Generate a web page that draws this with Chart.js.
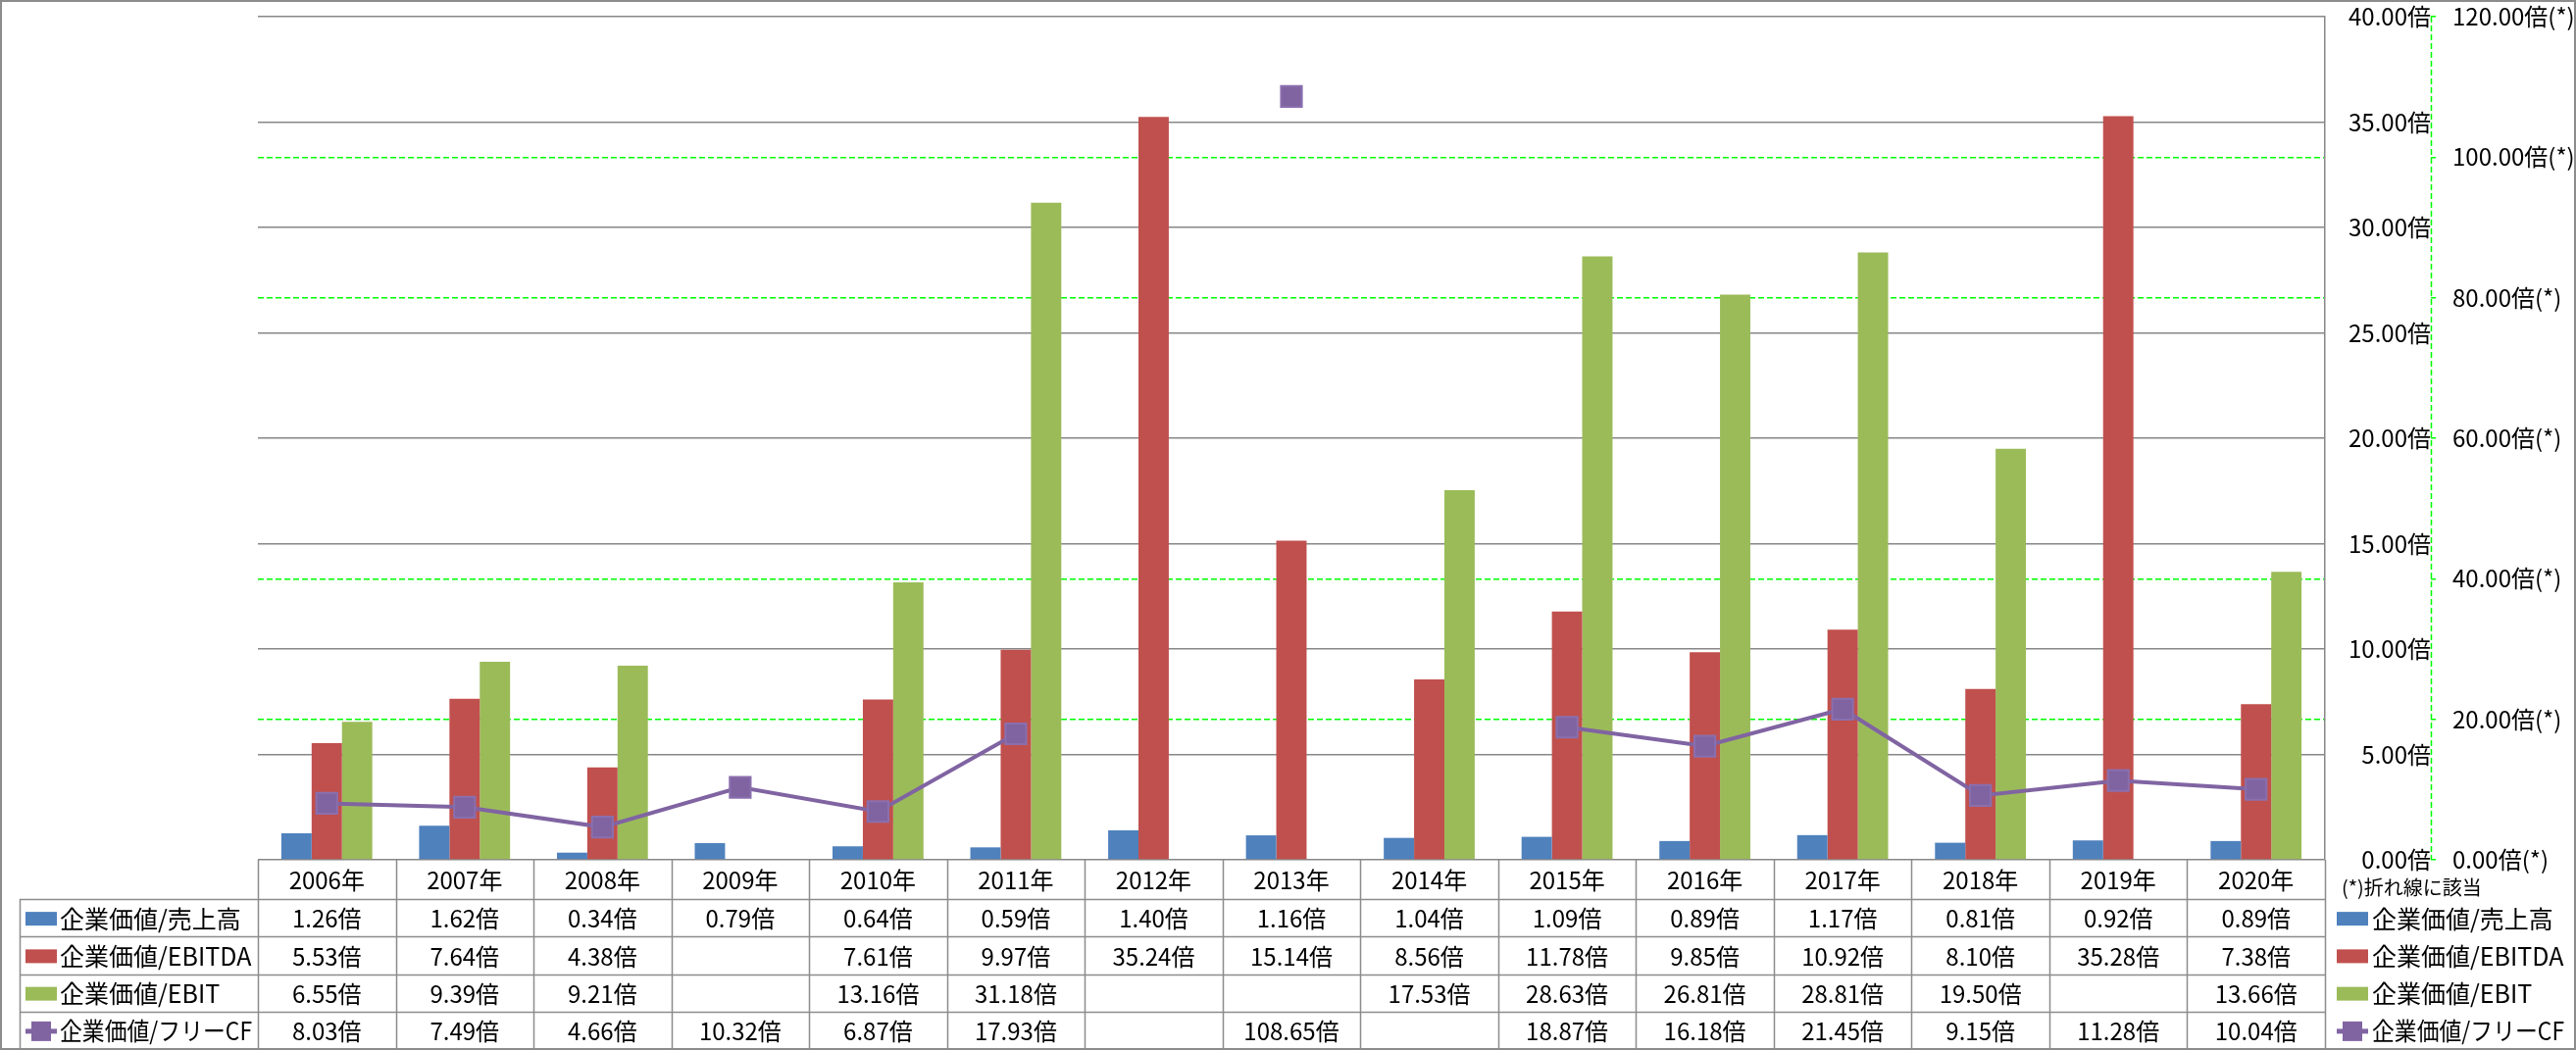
<!DOCTYPE html>
<html>
<head>
<meta charset="utf-8">
<script src="https://cdn.jsdelivr.net/npm/chart.js@4/dist/chart.umd.min.js"></script>
<style>
  html, body { margin: 0; padding: 0; background: #fff; }
  canvas { display: block; }
</style>
</head>
<body>
<canvas id="chart" width="2627" height="1071"></canvas>
<script>
const years = ['2006年', '2007年', '2008年', '2009年', '2010年', '2011年', '2012年', '2013年',
               '2014年', '2015年', '2016年', '2017年', '2018年', '2019年', '2020年'];

const evSales  = [1.26, 1.62, 0.34, 0.79, 0.64, 0.59, 1.40, 1.16, 1.04, 1.09, 0.89, 1.17, 0.81, 0.92, 0.89];
const evEbitda = [5.53, 7.64, 4.38, null, 7.61, 9.97, 35.24, 15.14, 8.56, 11.78, 9.85, 10.92, 8.10, 35.28, 7.38];
const evEbit   = [6.55, 9.39, 9.21, null, 13.16, 31.18, null, null, 17.53, 28.63, 26.81, 28.81, 19.50, null, 13.66];
const evFcf    = [8.03, 7.49, 4.66, 10.32, 6.87, 17.93, null, 108.65, null, 18.87, 16.18, 21.45, 9.15, 11.28, 10.04];

const leftTicks  = { min: 0, max: 40, step: 5 };
const rightTicks = { min: 0, max: 120, step: 20 };

const COLORS = {
    sales: '#4F81BD',
    ebitda: '#C0504D',
    ebit: '#9BBB59',
    fcf: '#8064A2',
    grid: '#878787',
    table: '#8C8C8C',
    green: '#00FF00'
};

const FONT = "'Noto Sans CJK JP', 'Noto Sans', sans-serif";
Chart.defaults.font.family = FONT;
Chart.defaults.font.size = 24;
Chart.defaults.color = '#000';

const fmt = v => (v === null || v === undefined) ? '' : v.toFixed(2) + '倍';

// swatch used both in the table row headers and the right legend
function drawSwatch(ctx, ds, x, y, w) {
    if (ds.type === 'line') {
        ctx.strokeStyle = ds.borderColor;
        ctx.lineWidth = 5;
        ctx.beginPath();
        ctx.moveTo(x, y);
        ctx.lineTo(x + w, y);
        ctx.stroke();
        ctx.fillStyle = ds.borderColor;
        ctx.fillRect(x + w / 2 - 10, y - 10, 20, 20);
    } else {
        ctx.fillStyle = ds.backgroundColor;
        ctx.fillRect(x, y - 7, w, 14);
    }
}

const dataTable = {
    id: 'dataTable',
    afterDraw(chart) {
        const { ctx, chartArea, scales: { x, y2 } } = chart;
        const datasets = chart.data.datasets;
        const left = chartArea.left, right = chartArea.right;
        const colW = (right - left) / years.length;
        const headTop = chartArea.bottom;
        const headBottom = headTop + 40;
        const rowH = (1070 - headBottom) / datasets.length;
        const labelLeft = 20;

        ctx.save();
        // dashed secondary axis line
        ctx.strokeStyle = COLORS.green;
        ctx.lineWidth = 1.5;
        ctx.setLineDash([6, 3]);
        ctx.beginPath();
        ctx.moveTo(Math.round(y2.left) + 0.5, chartArea.top);
        ctx.lineTo(Math.round(y2.left) + 0.5, chartArea.bottom);
        ctx.stroke();
        ctx.setLineDash([]);

        ctx.strokeStyle = COLORS.table;
        ctx.lineWidth = 1.5;
        ctx.beginPath();
        // horizontal lines
        for (let r = 0; r <= datasets.length; r++) {
            const y = Math.round(headBottom + r * rowH) + 0.5;
            ctx.moveTo(labelLeft, y);
            ctx.lineTo(right, y);
        }
        // vertical lines
        for (let i = 0; i <= years.length; i++) {
            const xx = Math.round(left + i * colW) + 0.5;
            ctx.moveTo(xx, headTop);
            ctx.lineTo(xx, 1070);
        }
        ctx.moveTo(labelLeft + 0.5, headBottom);
        ctx.lineTo(labelLeft + 0.5, 1070);
        ctx.stroke();

        ctx.fillStyle = '#000';
        ctx.font = '24px ' + FONT;
        ctx.textAlign = 'center';
        ctx.textBaseline = 'middle';
        years.forEach((yr, i) => {
            ctx.fillText(yr, x.getPixelForValue(i), (headTop + headBottom) / 2 + 1);
        });

        datasets.forEach((ds, r) => {
            const cy = headBottom + (r + 0.5) * rowH + 1;
            ctx.font = '24px ' + FONT;
            ctx.fillStyle = '#000';
            ctx.textAlign = 'center';
            ds.data.forEach((v, i) => {
                ctx.fillText(fmt(v), x.getPixelForValue(i), cy);
            });
            ctx.font = '25px ' + FONT;
            // row header
            drawSwatch(ctx, ds, 26, cy, 32);
            ctx.fillStyle = '#000';
            ctx.textAlign = 'left';
            ctx.fillText(ds.label, 61, cy, 196);
            // right legend
            drawSwatch(ctx, ds, 2383, cy, 32);
            ctx.fillStyle = '#000';
            ctx.fillText(ds.label, 2419, cy, 196);
        });

        ctx.font = '20px ' + FONT;
        ctx.textAlign = 'left';
        ctx.fillText('(*)折れ線に該当', 2388, 905);

        // outer frame
        ctx.strokeStyle = COLORS.table;
        ctx.lineWidth = 2;
        ctx.strokeRect(1, 1, 2625, 1069);
        ctx.restore();
    }
};

new Chart(document.getElementById('chart'), {
    type: 'bar',
    data: {
        labels: years,
        datasets: [
            {
                label: '企業価値/売上高',
                data: evSales,
                backgroundColor: COLORS.sales,
                yAxisID: 'y',
                order: 1
            },
            {
                label: '企業価値/EBITDA',
                data: evEbitda,
                backgroundColor: COLORS.ebitda,
                yAxisID: 'y',
                order: 1
            },
            {
                label: '企業価値/EBIT',
                data: evEbit,
                backgroundColor: COLORS.ebit,
                yAxisID: 'y',
                order: 1
            },
            {
                type: 'line',
                label: '企業価値/フリーCF',
                data: evFcf,
                borderColor: COLORS.fcf,
                backgroundColor: COLORS.fcf,
                borderWidth: 4,
                pointStyle: 'rect',
                pointRadius: 15,
                pointBorderWidth: 2,
                pointBorderColor: '#8A6FAE',
                pointBackgroundColor: COLORS.fcf,
                spanGaps: false,
                tension: 0,
                yAxisID: 'y2',
                order: 0
            }
        ]
    },
    options: {
        responsive: false,
        devicePixelRatio: 1,
        animation: false,
        events: [],
        layout: { padding: { left: 263, top: 16, right: 0, bottom: 194 } },
        datasets: {
            bar: { barPercentage: 1, categoryPercentage: 0.66 }
        },
        plugins: {
            legend: { display: false },
            tooltip: { enabled: false }
        },
        scales: {
            x: {
                type: 'category',
                display: false,
                offset: true
            },
            y: {
                position: 'right',
                min: leftTicks.min,
                max: leftTicks.max,
                afterFit: s => { s.width = 108; s.paddingTop = 0; s.paddingBottom = 0; },
                grid: { color: COLORS.grid, lineWidth: 1.5, drawTicks: false },
                border: { display: true, color: COLORS.grid, width: 1.5 },
                ticks: {
                    stepSize: leftTicks.step,
                    crossAlign: 'far',
                    padding: 11,
                    callback: v => v.toFixed(2) + '倍'
                }
            },
            y2: {
                position: 'right',
                min: rightTicks.min,
                max: rightTicks.max,
                afterFit: s => { s.width = 148; s.paddingTop = 0; s.paddingBottom = 0; },
                grid: {
                    // skip lines that fall on a primary gridline (0, 60, 120)
                    color: ctx => (ctx.tick && ctx.tick.value % 60 === 0) ? 'rgba(0,0,0,0)' : COLORS.green,
                    tickColor: COLORS.green,
                    lineWidth: 1.5,
                    tickLength: 5
                },
                border: { display: false, dash: [6, 3] },
                ticks: {
                    stepSize: rightTicks.step,
                    padding: 17,
                    callback: v => v.toFixed(2) + '倍(*)'
                }
            }
        }
    },
    plugins: [dataTable]
});
</script>
</body>
</html>
